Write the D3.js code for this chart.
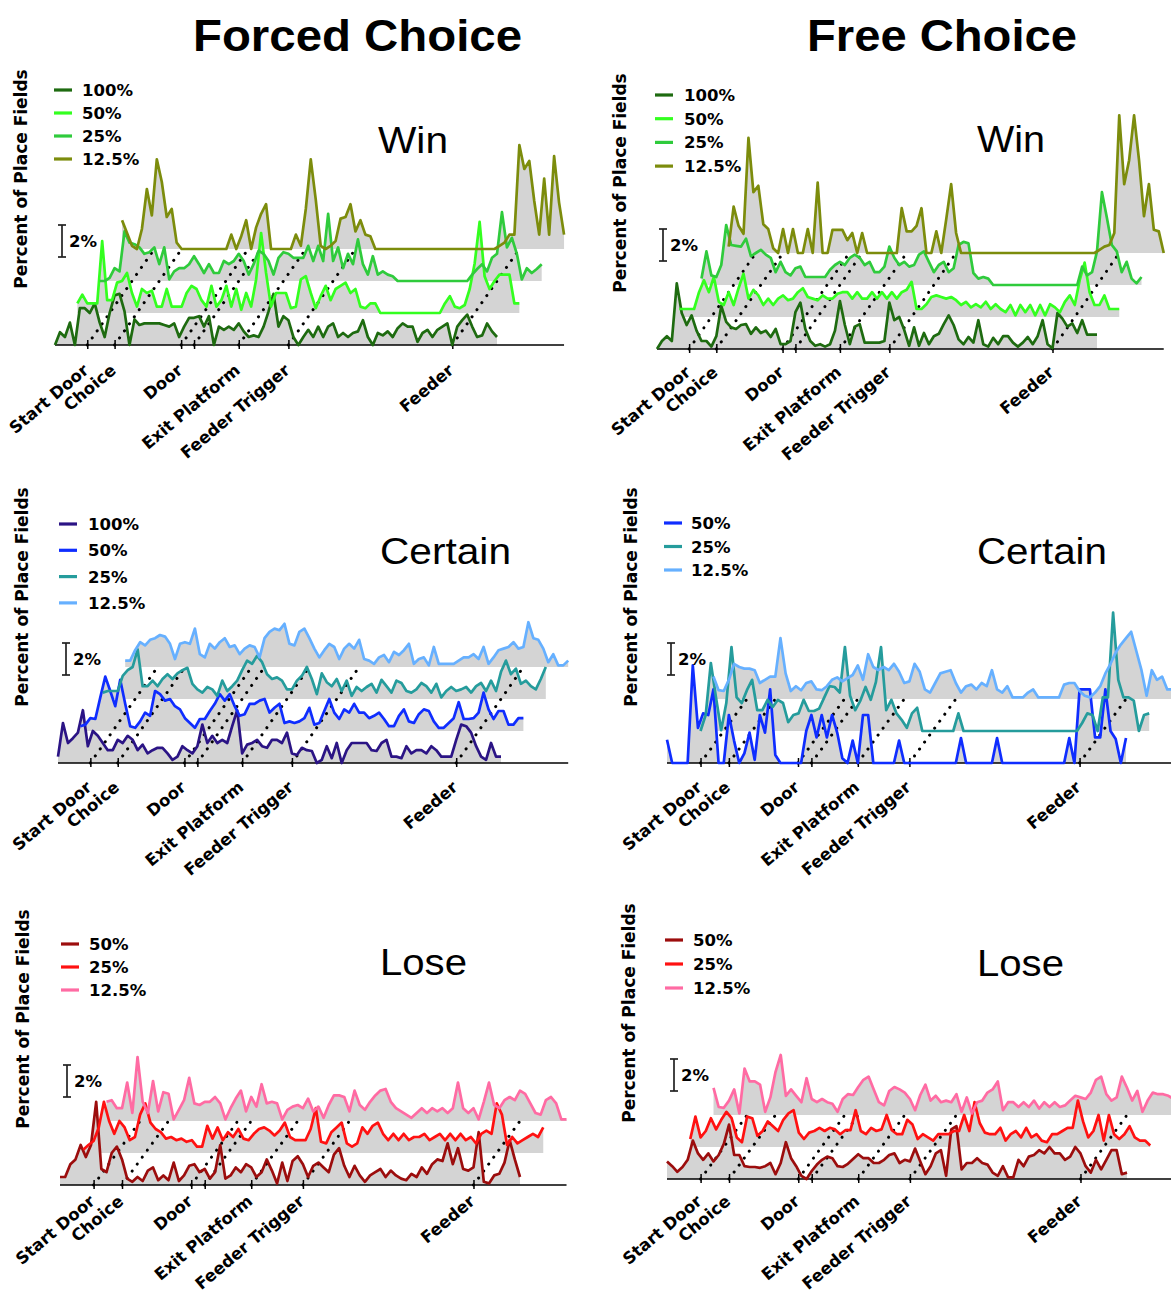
<!DOCTYPE html>
<html><head><meta charset="utf-8">
<script src="https://cdn.jsdelivr.net/npm/d3@7"></script>
<style>body{margin:0;background:#fff}</style>
</head><body>
<script>
// ---------- data ----------
const eventPos = [6.5, 12, 25.4, 28, 37, 47, 80];
const eventLabels = ["Start Door", "Choice", "Door", "", "Exit Platform", "Feeder Trigger", "Feeder"];
const columnTitles = ["Forced Choice", "Free Choice"];
const rowTitles = ["Win", "Certain", "Lose"];
const yLabel = "Percent of Place Fields";
const scaleLabel = "2%";
const levels4 = ["100%", "50%", "25%", "12.5%"];
const levels3 = ["50%", "25%", "12.5%"];

const forcedWin100 = [0,0.8,0.5,1.4,0,2.3,2.3,2.0,2.6,1.4, 0.5,2.0,3.1,3.2,2.1,0,1.6,1.25,1.35,1.35, 1.35,1.35,1.25,1.15,1.35,0.5,1.15,1.7,1.7,1.8, 1.15,1.8,0,1.15,0.95,1.15,0.95,1.35,0.85,0.5, 0.6,0.5,1.15,2.1,3.2,1.15,1.8,1.55,0.5,0, 0.5,0.95,0.5,1.15,0.5,1.15,1.35,0.5,0.75,0.5, 0.75,0.85,1.55,0.5,0,0.75,0.6,0.85,0.5,1.05, 1.35,1.15,1.15,0.2,0.75,0.95,0.5,0.95,1.15,1.35, 0,1.15,1.55,1.9,1.15,0.5,0.6,1.35,0.85,0.5];
const forcedWin50 = [0.6,1.15,0.6,0.6,0.6,4.5,0.8,0.8,1.9,2.0, 2.5,1.25,0.4,1.5,1.25,1.4,0.4,0.4,1.5,0.4, 0.4,0.4,1.25,1.7,1.5,0.8,0.4,1.7,0.4,0.8, 1.7,0.4,1.5,0.2,1.25,0.4,2.1,5.0,2.5,0.4, 1.25,1.25,1.25,0.3,0.4,2.1,2.3,1.25,0.3,1.05, 1.7,0.8,1.5,1.7,1.9,1.25,1.5,0.4,0.3,0.6, 0.6,0,0,0,0,0,0,0,0,0, 0,0,0,0,0.6,1.05,0.4,0.3,0.5,1.5, 3.1,5.7,2.3,1.5,2.0,2.4,2.4,2.4,0.6,0.6];
const forcedWin25 = [0,0,0.2,0.8,0.6,3.1,2.4,2.3,2.1,1.7, 1.8,2.1,1.05,2.1,0.1,0.6,0.8,0.8,1.05,1.55, 1.05,0.5,1.05,0.5,0.5,1.25,1.05,1.25,1.7,1.25, 0.4,1.05,1.9,1.7,1.25,0.4,1.45,1.8,1.7,1.45, 1.45,1.45,2.2,1.25,2.2,1.25,4.2,1.25,2.1,0.8, 1.7,1.05,2.6,1.05,0.4,1.55,0.4,0.6,0.4,0.3, 0,0,0,0,0,0,0,0,0,0, 0,0,0,0,0,0.4,0.75,1.05,0.6,1.45, 1.7,4.3,2.1,2.7,1.7,0.1,0.8,0.5,0.75,1.05];
const forcedWin12 = [1.8,1.0,0.2,0,1.25,3.75,2.1,5.6,4.2,2.0, 2.5,0.4,0,0,0,0,0,0,0,0, 0,0,0.9,0,0.8,1.8,0,1.35,2.2,2.8, 0,0,0,0,0,0.9,0.2,2.5,5.6,3.1, 0.2,0,0.2,0.5,1.9,2.0,2.8,1.1,1.8,0.9, 0.8,0,0,0,0,0,0,0,0,0, 0,0,0,0,0,0,0,0,0,0, 0,0,0,0,0,0,0.2,0.4,0.9,0.9, 6.5,5.0,5.5,3.0,0.9,4.4,0.9,5.8,2.9,0.9];

const freeWin100 = [0,0.5,0.8,0.5,4.1,2.25,1.5,2.1,1.15,0.5, 0.5,0.15,0.8,2.7,1.7,1.35,1.25,1.5,1.55,0.95, 1.35,1.0,1.15,0.75,1.25,0.3,0.3,0.5,2.3,2.9, 1.25,0.5,0.2,0.3,0.15,0.3,1.15,3.0,1.5,0.3, 1.4,1.55,0.4,0.4,0.4,0.4,0.5,2.9,1.8,2.0, 1.2,0.2,1.35,0.2,1.0,0.3,0.8,0.95,1.55,2.1, 1.5,0.6,0.3,0.75,0.4,1.8,0.3,0.15,0.7,0.3, 0.8,0.8,0.4,0.15,0.4,0.75,0.3,0.8,1.8,0.3, 0.05,2.25,1.9,1.4,1.6,1.0,1.8,0.9,0.9,0.9];
const freeWin50 = [0.5,0.5,0.5,0.5,1.55,2.3,1.55,2.5,0.95,0.75, 1.55,0.75,1.8,2.7,1.15,1.7,1.35,0.75,1.15,0.75, 1.15,1.35,1.05,1.15,1.55,1.8,1.25,1.15,1.05,1.35, 1.15,1.15,1.45,1.55,1.55,1.15,1.55,1.15,1.15,1.55, 1.15,1.55,1.15,1.55,1.15,1.55,1.7,2.2,0.5,0.5, 0.8,1.25,1.35,1.25,1.15,1.25,1.05,0.75,0.95,0.6, 0.8,0.6,0.95,0.5,0.8,0.5,0.3,0.75,0.1,0.75, 0.3,0.75,0.1,0.75,0.1,0.8,0.6,0.3,0.95,1.35, 0.75,2.3,3.4,1.55,0.75,0.75,1.35,0.5,0.5,0.5];
const freeWin25 = [0.4,2.1,0.6,0.5,1.25,3.75,2.5,2.45,2.4,2.9, 1.8,2.0,2.2,1.9,1.7,0.8,1.45,0.8,0.6,1.05, 1.15,0.5,0.5,0.5,0.5,0.5,0.95,1.25,1.45,1.25, 1.7,1.9,1.7,1.25,1.45,0.8,0.8,1.15,2.4,1.7, 1.25,1.45,1.15,1.25,1.9,2.1,1.45,0.8,1.25,1.45, 0.8,1.05,2.5,2.7,2.6,0.75,0.4,0.5,0.4,0, 0,0,0,0,0,0,0,0,0,0, 0,0,0,0,0,0,0,1.15,0.6,0.8, 2.1,5.8,4.2,2.5,2.1,0.8,1.45,0.4,0.1,0.5];
const freeWin12 = [null,0.4,2.9,1.7,1.2,7.2,3.8,4.2,1.8,1.5, 0.3,0,1.5,0,1.5,0,0,1.5,0,4.4, 0,0,1.45,1.45,1.45,0.8,1.25,0,1.25,0, 0,0,0,0,0,0,2.8,1.35,1.35,1.7, 2.8,0,0,1.35,0,2.1,4.3,1.25,0,0, 0,0,0,0,0,0,0,0,0,0, 0,0,0,0,0,0,0,0,0,0, 0,0,0,0,0,0,0.2,0.4,0.5,1.25, 8.6,4.3,5.8,8.6,5.8,2.3,4.3,1.45,1.35,0];

const forcedCertain100 = [0.4,2.5,1.25,1.55,1.9,3.3,1.05,2.0,1.7,1.25, 0.8,0.8,1.45,1.25,1.7,1.45,0.8,1.15,0.6,0.8, 0.95,0.95,0.6,0.2,0.4,1.05,0.8,0.6,1.05,2.4, 1.25,1.7,1.25,1.45,1.25,2.3,3.3,0.6,1.15,1.25, 1.45,1.05,0.95,1.45,1.45,1.25,1.9,0.6,0.5,0.95, 0.8,0.75,0,0.2,1.05,0.3,1.25,0,0.8,1.25, 1.25,1.25,1.25,0.8,0.75,1.25,1.45,0.4,0.4,0.3, 1.05,0.6,0.8,0.8,0.6,1.05,0.8,0.4,0.4,0.4, 1.45,2.4,2.3,1.9,1.05,0.4,0.2,1.25,0.4,0.4];
const forcedCertain50 = [0.3,0.4,0.8,0.75,2.1,3.4,2.5,1.55,3.2,1.7, 0.3,0.2,0.6,1.15,0.95,2.5,2.3,1.9,2.0,1.55, 1.35,0.8,0.5,0.2,0.75,0.75,1.25,1.7,2.3,1.9, 2.3,1.55,0.95,1.05,1.7,1.7,1.9,2.0,1.15,1.45, 1.7,0.5,0.6,0.5,0.6,0.8,1.45,0.4,0.5,1.25, 2.0,1.15,0.75,1.35,1.15,1.7,1.15,1.15,0.8,0.95, 1.15,0.75,0.3,0.3,0.95,1.35,0.6,0.5,1.05,1.35, 1.25,0.6,0.2,0.2,0.5,0.8,1.8,0.75,0.75,0.8, 1.15,2.4,1.35,0.75,1.25,1.25,0.4,0.4,0.8,0.8];
const forcedCertain25 = [0.4,0.5,0.5,0.5,1.45,1.8,2.0,3.1,0.8,0.8, 1.15,0.8,1.25,1.55,1.25,1.6,1.8,1.95,0.95,0.6, 0.4,0.75,0.6,0.2,1.15,0.5,0.8,1.15,1.8,2.4, 2.2,2.7,2.3,1.55,1.25,1.35,1.15,0.6,0.6,1.15, 1.45,2.0,1.25,0.3,1.6,1.05,0.8,1.25,0.5,1.15, 0.2,0.75,0.5,0.75,0.95,0.4,1.2,0.8,0.4,1.15, 1.0,0.5,0.4,0.6,1.0,0.8,0.4,0.95,0.1,0.5, 0.75,0.5,0.6,0.75,0.4,0.8,1.0,0.5,1.15,0.5, 1.7,2.4,1.55,1.9,0.95,1.15,0.8,0.6,1.25,2.0];
const forcedCertain12 = [0.4,0.4,1.05,1.55,1.35,1.7,1.8,2.0,1.9,1.45, 0.5,1.45,1.55,1.45,2.4,0.8,0.6,1.45,1.15,1.55, 1.8,1.25,1.35,0.8,1.15,1.35,1.25,0.6,1.8,2.2, 2.4,2.3,2.7,1.45,1.35,2.2,2.4,1.8,1.15,0.6, 1.05,1.45,1.25,0.5,1.15,1.45,1.15,1.7,0.5,0.4, 0.2,0.6,0.75,0.3,0.95,0.75,1.05,1.45,0.2,0.5, 0.6,0.1,1.25,0.2,0.2,0.2,0.2,0.4,0.6,0.6, 0.8,0.5,1.25,0.2,0.6,1.05,1.15,1.25,1.55,1.15, 1.25,2.8,1.8,1.7,1.15,0.3,0.8,0.1,0.1,0.4];

const freeCertain50 = [1.45,0,0,0,0,6.1,2.2,3.1,3.0,4.6, 0,0,3.0,1.4,0,0.6,1.9,0.2,3.0,1.9, 4.6,0.5,0,0,0,0,0,2.0,3.0,1.6, 3.0,1.6,3.0,1.9,0.3,0,1.4,0,3.0,3.0, 0,0,0,0,0,1.4,0,0,0,0, 0,0,0,0,0,0,0,1.56,0,0, 0,0,0,0,1.56,0,0,0,0,0, 0,0,0,0,0,0,0,0,1.56,0, 4.6,4.6,4.6,1.6,1.6,4.6,2.0,1.5,0,1.56];
const freeCertain25 = [null,null,0,1.0,4.25,2.1,0.05,1.75,5.25,2.1, 1.75,2.55,3.2,1.3,1.3,1.95,1.5,1.95,1.75,0.55, 1.0,1.1,1.95,1.25,1.25,1.4,2.1,2.8,2.75,2.4, 5.25,2.2,1.3,1.9,2.75,1.95,3.05,5.25,1.3,1.95, 1.1,0.7,0.2,1.1,1.45,0,0,0,0,0, 0,0,1.1,0,0,0,0,0,0,0, 0,0,0,0,0,0,0,0,0,0, 0,0,0,0,0,0,0.5,1.1,1.0,0, 2.1,2.1,7.4,3.2,2.1,2.1,1.9,0,1.0,1.1];
const freeCertain12 = [1.4,0.55,0.5,1.2,2.2,2.0,1.9,1.9,1.8,1.0, 1.2,1.4,1.4,3.8,1.6,0.5,0.8,0.55,1.0,1.1, 0.6,0.55,0.8,1.2,1.35,1.1,1.3,1.5,2.1,1.2, 2.8,2.0,1.8,2.0,1.8,2.2,1.7,1.0,1.1,2.2, 1.7,0.6,0.4,1.0,1.6,1.7,1.8,1.0,0.4,0.8, 0.9,0.6,1.0,0.8,1.8,0.6,0.4,0.8,0.1,0.1, 0.1,0.4,0.6,0.1,0.1,0.1,0.1,0.1,0.9,1.0, 1.0,0.5,0.2,0.1,0.4,0.8,1.6,2.2,2.9,3.4, 3.8,4.2,3.0,1.8,0.2,1.8,1.2,1.4,0.6,0.6];

const forcedLose50 = [0.5,0.5,1.3,1.6,2.5,1.75,2.5,5.2,1.0,0.8, 2.0,2.4,1.6,0.4,0.2,0.5,0.25,0.9,1.1,0.3, 0.6,0.3,1.4,0.25,0.6,1.2,1.3,0.8,1.0,0.4, 0.8,2.5,0.4,0.6,1.1,0.8,1.3,1.1,0.5,0.8, 1.6,0.9,0.1,1.4,0.25,1.5,1.8,1.3,0.5,1.2, 1.4,1.1,0.8,1.9,2.3,1.2,0.5,1.2,0.6,0.2, 0.6,0.8,1.0,0.5,0.9,0.6,0.4,0.3,0.7,0.5, 1.1,0.7,1.3,1.6,1.5,2.6,1.3,2.3,1.0,0.9, 1.1,3.3,0.2,0.1,0.6,0.7,1.4,2.8,1.6,0.5];
const forcedLose25 = [0.2,0.5,0.75,1.6,3.2,2.0,1.2,2.0,1.6,0.8, 1.0,2.4,3.1,1.9,1.5,1.3,0.9,1.0,0.8,0.9, 0.7,0.8,0.4,0.4,1.7,0.9,1.6,0.8,1.3,1.0, 1.5,0.9,0.8,1.2,1.5,1.6,1.4,1.1,1.4,1.9, 1.0,0.8,0.8,0.8,1.5,2.8,0.7,0.6,1.3,1.6, 1.9,0.6,0.4,0.6,1.6,1.2,1.7,1.9,1.2,0.8, 1.2,0.8,1.2,0.8,1.0,1.0,1.2,0.8,1.0,1.2, 0.8,1.2,0.8,1.2,0.8,1.0,0.6,1.2,1.4,1.2, 3.1,2.4,0.5,1.0,0.6,0.8,1.0,1.2,1.0,1.6];
const forcedLose12 = [1.2,1.3,0.8,0.8,2.4,0.5,4.0,1.2,0.5,2.5, 0.6,1.8,1.7,0.1,0.7,1.3,2.7,1.1,1.0,1.2, 1.2,1.5,1.1,0.1,0.8,1.4,1.9,0.6,1.5,0.9, 2.3,1.1,1.2,1.1,0.1,0.7,0.9,1.0,0.8,1.4, 0.6,0.9,0.2,1.0,1.6,1.6,1.5,0.6,1.9,1.0, 0.7,1.2,1.6,1.9,2.0,1.2,0.8,0.6,0.4,0.2, 0.5,0.8,0.5,0.8,0.6,0.8,0.5,0.8,2.4,0.8, 0.5,0.8,0.1,1.2,2.4,1.0,0.8,1.3,1.5,1.3, 1.9,1.7,1.1,0.5,0.4,1.3,1.5,1.1,0.1,0.1];

const freeLose50 = [1.1,0.8,0.45,0.75,1.2,2.4,1.6,1.2,1.6,1.1, 1.5,2.2,3.4,1.5,1.5,0.8,0.75,0.75,0.7,0.8, 1.0,0.3,1.0,2.3,1.3,0.8,0.2,0,0.5,0.9, 1.2,1.4,1.3,0.8,0.75,0.95,1.25,1.55,1.3,1.3, 1.0,1.0,1.2,1.5,1.6,1.0,1.2,1.1,1.9,1.1, 0.3,0.8,1.6,1.8,0.2,3.1,3.3,0.6,1.0,1.0, 1.3,1.0,0.9,0.4,0.2,0.8,0.1,0.1,1.2,0.8, 1.4,1.5,1.8,1.6,2.0,1.6,1.6,1.2,1.4,2.0, 1.6,0.8,0.4,1.2,0.6,1.2,1.8,1.8,0.3,0.4];
const freeLose25 = [0.5,1.9,0.6,1.0,1.8,1.1,1.7,2.2,1.8,0.6, 0.3,1.9,1.8,0.7,1.0,1.6,1.3,1.0,1.7,2.1, 2.3,0.9,0.5,0.9,1.0,1.2,1.0,1.2,1.1,0.8, 1.05,1.05,2.3,1.0,0.8,1.2,1.0,1.1,2.0,1.05, 0.8,0.8,1.7,1.4,0.5,0.8,0.6,0.4,0.8,0.8, 0.8,1.0,1.0,2.0,1.0,2.8,1.5,0.9,0.8,0.8, 1.2,0.4,0.8,1.0,0.6,1.2,0.6,0.8,0.4,0.3, 0.8,0.8,1.0,1.2,1.2,2.9,1.6,0.6,1.0,2.0, 0.4,2.0,0.8,0.5,0.8,1.3,0.6,0.4,0.4,0.1];
const freeLose12 = [1.7,0.5,0.45,0.9,1.6,0.1,2.9,2.1,2.1,1.9, 0.2,1.1,2.7,3.75,1.2,1.6,1.2,0.8,2.3,1.0, 0.8,1.0,0.8,0.7,0.2,1.0,1.3,1.25,1.75,2.2, 2.4,1.6,0.8,0.6,1.5,1.75,1.6,1.4,1.0,0.3, 1.25,1.9,0.9,1.2,0.8,0.9,0.8,1.3,0.2,1.1, 0.1,0.8,0.9,1.4,1.6,2.1,0.3,0.8,0.8,0.5, 0.8,0.5,0.9,0.4,0.8,0.5,0.8,0.5,0.6,0.9, 1.2,1.1,1.0,1.4,2.2,2.4,1.3,0.9,1.1,2.4, 1.7,0.9,1.5,0.2,0.9,1.4,1.3,1.3,1.2,1.0];

// ---------- styles ----------
const winColors = ["#1e6b10", "#33ff1f", "#2fcb3c", "#7c8c0c"];
const certainColors = ["#2b1485", "#0f2dff", "#259c9c", "#66b0ff"];
const loseColors = ["#9c0d0d", "#ff1111", "#ff6ba3"];
const fillGrey = "#d4d4d4";
const bins = 89;        // last bin index
const shift = 4.5;      // waterfall x offset per series (bins)
const step = 2;         // waterfall y offset per series (%)
const boldFont = "'DejaVu Sans', Verdana, sans-serif";
const titleFont = "'Liberation Sans', Arial, sans-serif";

function mk(labels, colors, arrays) {
  return arrays.map((v, i) => ({ label: labels[i], color: colors[i], values: v }));
}

const panels = [
  { title: rowTitles[0], series: mk(levels4, winColors, [forcedWin100, forcedWin50, forcedWin25, forcedWin12]),
    x0: 55, len: 442, axisY: 345, labDy: 27, lx: 54, ly: 90, lstep: 23, tx: 82, barX: 62,
    titleX: 378, titleY: 153, titleW: 70, ylX: 27, ylY: 179 },
  { title: rowTitles[0], series: mk(levels4, winColors, [freeWin100, freeWin50, freeWin25, freeWin12]),
    x0: 657, len: 440, axisY: 349, labDy: 25, lx: 655, ly: 95, lstep: 23.7, tx: 684, barX: 663,
    titleX: 977, titleY: 152, titleW: 68, ylX: 626, ylY: 183 },
  { title: rowTitles[1], series: mk(levels4, certainColors, [forcedCertain100, forcedCertain50, forcedCertain25, forcedCertain12]),
    x0: 58, len: 443, axisY: 763, labDy: 26, lx: 59, ly: 524, lstep: 26.3, tx: 88, barX: 66,
    titleX: 380, titleY: 564, titleW: 131, ylX: 28, ylY: 597 },
  { title: rowTitles[1], series: mk(levels3, certainColors.slice(1), [freeCertain50, freeCertain25, freeCertain12]),
    x0: 667, len: 459, axisY: 763, labDy: 26, lx: 664, ly: 523, lstep: 23.5, tx: 691, barX: 671,
    titleX: 977, titleY: 564, titleW: 130, ylX: 637, ylY: 597 },
  { title: rowTitles[2], series: mk(levels3, loseColors, [forcedLose50, forcedLose25, forcedLose12]),
    x0: 60, len: 460, axisY: 1185, labDy: 18, lx: 61, ly: 944, lstep: 23, tx: 89, barX: 67,
    titleX: 380, titleY: 975, titleW: 87, ylX: 29, ylY: 1019 },
  { title: rowTitles[2], series: mk(levels3, loseColors, [freeLose50, freeLose25, freeLose12]),
    x0: 667, len: 460, axisY: 1179, labDy: 24, lx: 665, ly: 940, lstep: 24, tx: 693, barX: 674,
    titleX: 977, titleY: 976, titleW: 87, ylX: 635, ylY: 1013 }
];

// ---------- drawing ----------
const svg = d3.select("body").append("svg")
  .attr("width", 1171).attr("height", 1300)
  .style("background", "#fff");

[[193, 329], [807, 270]].forEach(([x, w], i) => {
  svg.append("text").attr("x", x).attr("y", 51)
    .attr("textLength", w).attr("lengthAdjust", "spacingAndGlyphs")
    .style("font", `bold 45px ${titleFont}`).attr("fill", "#000")
    .text(columnTitles[i]);
});

panels.forEach(p => {
  const n = p.series.length;
  const x = d3.scaleLinear().domain([0, bins]).range([p.x0, p.x0 + p.len]);
  const y = d3.scaleLinear().domain([0, 10]).range([p.axisY, p.axisY - 160]);
  const g = svg.append("g");

  // grey fills
  p.series.forEach((s, k) => {
    const area = d3.area().defined(d => d != null)
      .x((d, i) => x(i + shift * k))
      .y0(y(step * k))
      .y1(d => y(d + step * k));
    g.append("path").attr("d", area(s.values)).attr("fill", fillGrey);
  });

  // baseline axis
  const xEnd = x(bins + shift * (n - 1));
  g.append("line").attr("x1", x(0)).attr("x2", xEnd)
    .attr("y1", y(0)).attr("y2", y(0))
    .attr("stroke", "#000").attr("stroke-width", 1.6);

  const axis = d3.axisBottom(x).tickValues(eventPos)
    .tickFormat((d, i) => eventLabels[i]).tickSize(4);
  const ax = g.append("g").attr("transform", `translate(0,${y(0)})`).call(axis);
  ax.select(".domain").remove();
  ax.selectAll(".tick line").attr("y1", -5).attr("y2", 4).attr("stroke-width", 1.5);
  ax.selectAll(".tick text")
    .attr("x", 0).attr("y", 0).attr("dy", null)
    .attr("text-anchor", "end")
    .attr("transform", `translate(2,${p.labDy}) rotate(-40)`)
    .style("font", `bold 16.5px ${boldFont}`).attr("fill", "#000");

  // dotted event lines across the waterfall
  eventPos.forEach(e => {
    g.append("line")
      .attr("x1", x(e)).attr("y1", y(0))
      .attr("x2", x(e + shift * (n - 1))).attr("y2", y(step * (n - 1)))
      .attr("stroke", "#000").attr("stroke-width", 3)
      .attr("stroke-linecap", "round").attr("stroke-dasharray", "0.1 8.5");
  });

  // series lines
  p.series.forEach((s, k) => {
    const line = d3.line().defined(d => d != null)
      .x((d, i) => x(i + shift * k))
      .y(d => y(d + step * k));
    g.append("path").attr("d", line(s.values))
      .attr("fill", "none").attr("stroke", s.color)
      .attr("stroke-width", 2.7).attr("stroke-linejoin", "round");
  });

  // 2% scale bar
  const yb0 = y(5.5), yb1 = y(7.5);
  g.append("line").attr("x1", p.barX).attr("x2", p.barX).attr("y1", yb0).attr("y2", yb1)
    .attr("stroke", "#222").attr("stroke-width", 1.7);
  [yb0, yb1].forEach(v => g.append("line").attr("x1", p.barX - 4).attr("x2", p.barX + 4)
    .attr("y1", v).attr("y2", v).attr("stroke", "#222").attr("stroke-width", 1.7));
  g.append("text").attr("x", p.barX + 7).attr("y", y(6.5) + 6)
    .style("font", `bold 16.5px ${boldFont}`).attr("fill", "#000").text(scaleLabel);

  // legend
  p.series.forEach((s, k) => {
    const yy = p.ly + k * p.lstep;
    g.append("line").attr("x1", p.lx).attr("x2", p.lx + 18).attr("y1", yy).attr("y2", yy)
      .attr("stroke", s.color).attr("stroke-width", 3.2);
    g.append("text").attr("x", p.tx).attr("y", yy + 6)
      .style("font", `bold 16.5px ${boldFont}`).attr("fill", "#000").text(s.label);
  });

  // panel title
  g.append("text").attr("x", p.titleX).attr("y", p.titleY)
    .attr("textLength", p.titleW).attr("lengthAdjust", "spacingAndGlyphs")
    .style("font", `36px ${titleFont}`).attr("fill", "#000").text(p.title);

  // y label
  g.append("text").attr("transform", `translate(${p.ylX},${p.ylY}) rotate(-90)`)
    .attr("text-anchor", "middle")
    .style("font", `bold 17px ${boldFont}`).attr("fill", "#000").text(yLabel);
});
</script>
</body></html>
